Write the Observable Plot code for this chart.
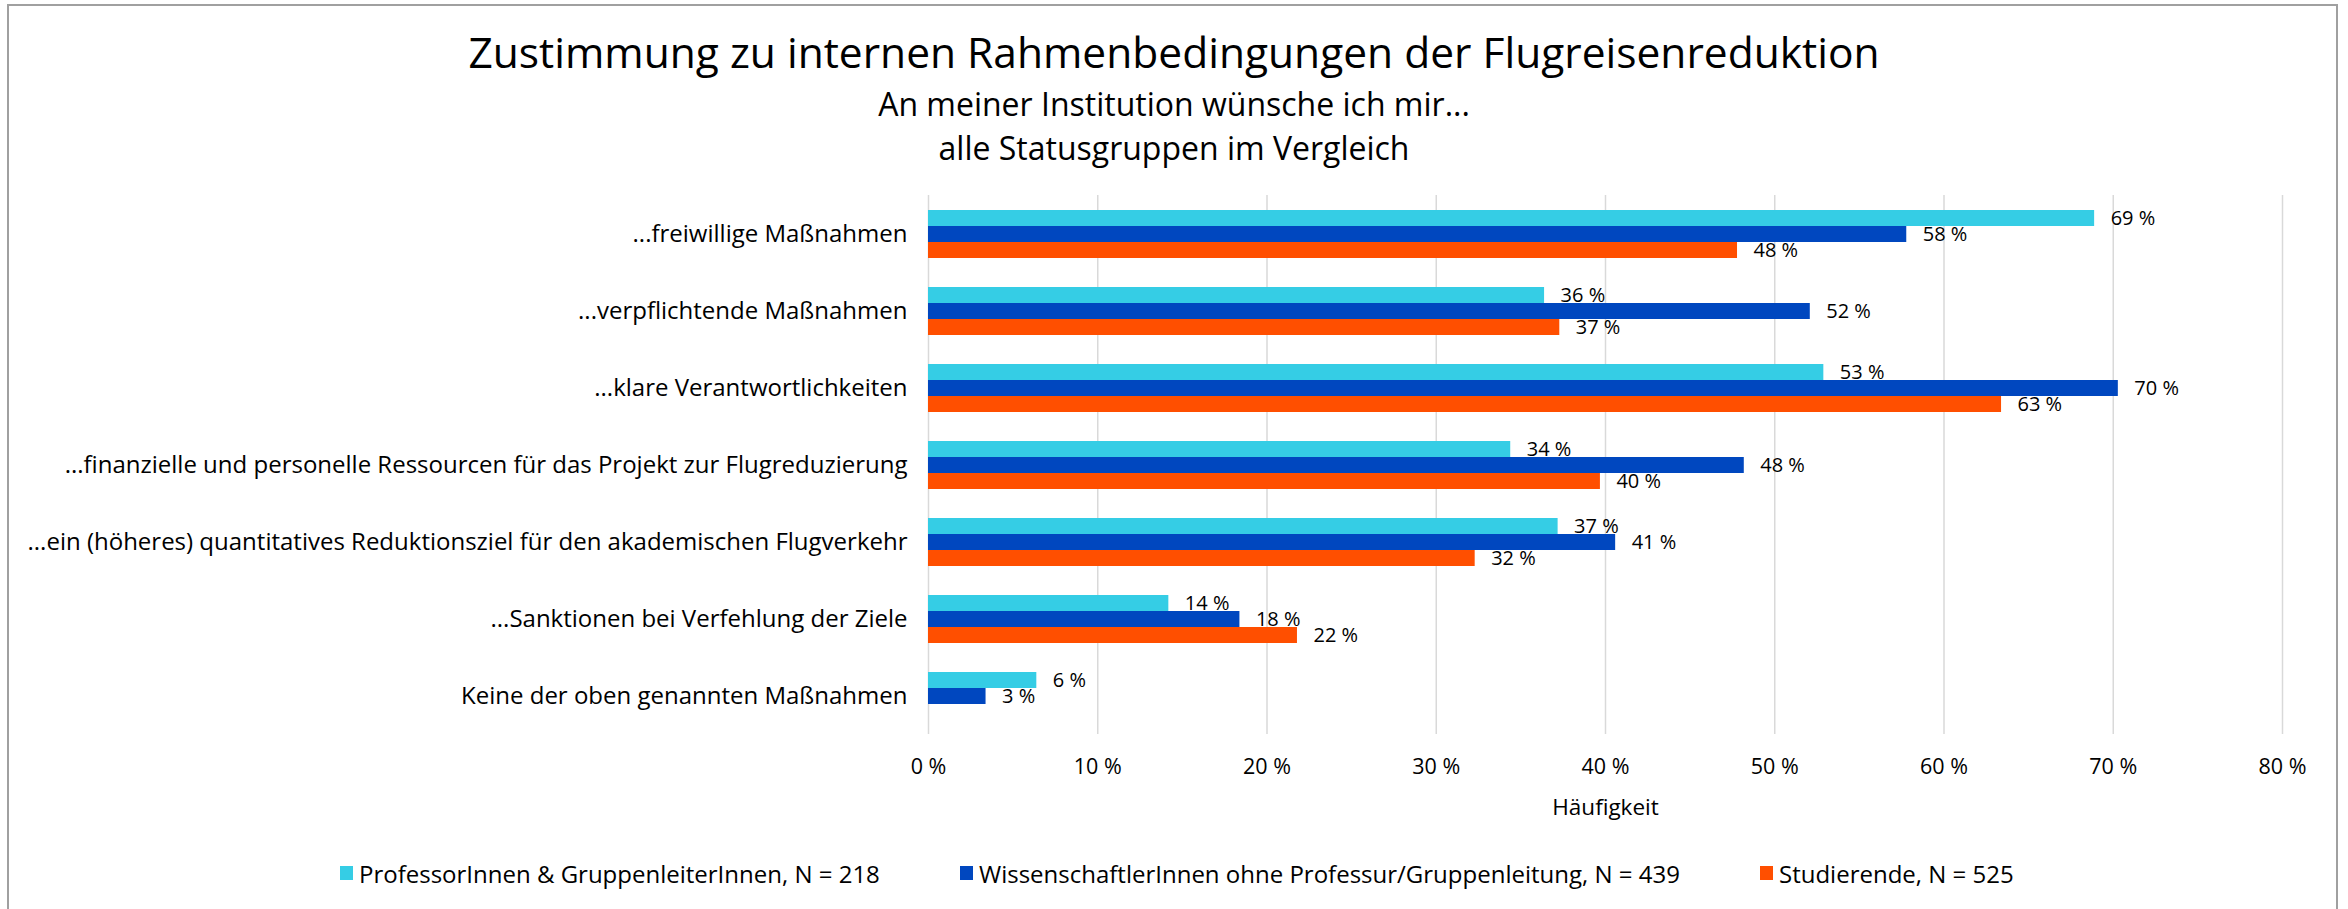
<!DOCTYPE html>
<html>
<head>
<meta charset="utf-8">
<script src="https://cdn.jsdelivr.net/npm/d3@7"></script>
<script src="https://cdn.jsdelivr.net/npm/@observablehq/plot@0.6"></script>
<style>
  html, body { margin: 0; padding: 0; background: #fff; }
  body { width: 2348px; height: 909px; position: relative; overflow: hidden; font-family: "Open Sans", Lato, sans-serif; color: #000; }
  .frame { position: absolute; left: 7px; top: 4px; width: 2331px; height: 1000px; border: 2px solid #a0a0a0; box-sizing: border-box; }
  .tline { position: absolute; left: 0; width: 2348px; text-align: center; white-space: nowrap; }
  #chart { position: absolute; left: 0; top: 170px; }
  .legend { position: absolute; top: 858px; height: 30px; display: flex; align-items: center; font-size: 24px; white-space: nowrap; }
  .legend .sw { width: 13px; height: 14px; margin-right: 6px; }
</style>
</head>
<body>
<div class="frame"></div>
<div class="tline" style="top:26px;font-size:42.5px;line-height:52px;">Zustimmung zu internen Rahmenbedingungen der Flugreisenreduktion</div>
<div class="tline" style="top:82px;font-size:32px;line-height:44px;">An meiner Institution wünsche ich mir...</div>
<div class="tline" style="top:126px;font-size:32px;line-height:44px;">alle Statusgruppen im Vergleich</div>
<div id="chart"></div>
<div id="legend"></div>
<script>
const categories = [
  "...freiwillige Maßnahmen",
  "...verpflichtende Maßnahmen",
  "...klare Verantwortlichkeiten",
  "...finanzielle und personelle Ressourcen für das Projekt zur Flugreduzierung",
  "...ein (höheres) quantitatives Reduktionsziel für den akademischen Flugverkehr",
  "...Sanktionen bei Verfehlung der Ziele",
  "Keine der oben genannten Maßnahmen"
];
const series = [
  "ProfessorInnen & GruppenleiterInnen, N = 218",
  "WissenschaftlerInnen ohne Professur/Gruppenleitung, N = 439",
  "Studierende, N = 525"
];
const profValues = [68.9, 36.4, 52.9, 34.4, 37.2, 14.2, 6.4];
const wissValues = [57.8, 52.1, 70.3, 48.2, 40.6, 18.4, 3.4];
const studValues = [47.8, 37.3, 63.4, 39.7, 32.3, 21.8, null];
const colors = ["#35CDE5", "#0047BF", "#FF4F00"];
const xTicks = [0, 10, 20, 30, 40, 50, 60, 70, 80];

const allValues = [profValues, wissValues, studValues];
const data = [];
categories.forEach((c, i) => {
  series.forEach((s, j) => {
    const v = allValues[j][i];
    if (v != null) data.push({category: c, series: s, value: v});
  });
});

const chart = Plot.plot({
  width: 2348,
  height: 650,
  marginTop: 25,
  marginBottom: 86,
  marginLeft: 928,
  marginRight: 66,
  style: {fontFamily: "'Open Sans', Lato, sans-serif", fontSize: "24px", color: "#000", background: "transparent"},
  fy: {domain: categories, padding: 0, label: null, tickSize: 0, tickPadding: 21},
  y: {domain: series, paddingInner: 0, paddingOuter: 0.906, axis: null},
  x: {domain: [0, 80], ticks: xTicks, tickFormat: d => d + " %", tickSize: 0, tickPadding: 24,
      label: "Häufigkeit", labelAnchor: "center", labelOffset: 80, labelArrow: "none"},
  color: {domain: series, range: colors},
  marks: [
    Plot.gridX(xTicks, {stroke: "#d9d9d9", strokeOpacity: 1, strokeWidth: 1.5}),
    Plot.barX(data, {x: "value", y: "series", fy: "category", fill: "series"}),
    Plot.text(data, {x: "value", y: "series", fy: "category", text: d => Math.round(d.value) + " %",
      textAnchor: "start", dx: 16, fill: "#000", fontSize: 20})
  ]
});
document.getElementById("chart").appendChild(chart);
chart.querySelectorAll('[aria-label="x-axis tick label"]').forEach(n => n.setAttribute("font-size", "21.5"));
chart.querySelectorAll('[aria-label="x-axis label"]').forEach(n => n.setAttribute("font-size", "22.5"));

const legendX = [340, 960, 1760];
const leg = document.getElementById("legend");
series.forEach((s, j) => {
  const item = document.createElement("div");
  item.className = "legend";
  item.style.left = legendX[j] + "px";
  item.innerHTML = `<span class="sw" style="background:${colors[j]}"></span><span>${s}</span>`;
  leg.appendChild(item);
});
</script>
</body>
</html>
